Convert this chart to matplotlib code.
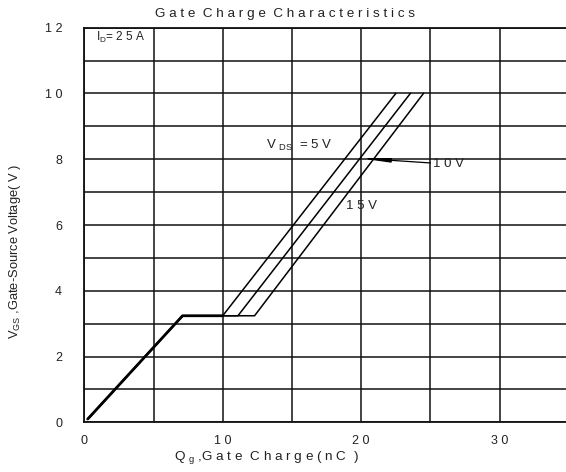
import matplotlib
matplotlib.use("Agg")
import matplotlib.pyplot as plt

plt.rcParams['font.family'] = ['Liberation Sans', 'DejaVu Sans']
plt.rcParams['mathtext.default'] = 'regular'

# gate charge curves (Qg in nC, Vgs in V) for Id = 25 A
qg_5v = [0.25, 7.1, 10.0, 22.5]
vgs_5v = [0.1, 3.24, 3.24, 10.0]
qg_10v = [0.25, 7.1, 11.1, 23.55]
vgs_10v = [0.1, 3.24, 3.24, 10.0]
qg_15v = [0.25, 7.1, 12.3, 24.5]
vgs_15v = [0.1, 3.24, 3.24, 10.0]

x_ticks = [0, 5, 10, 15, 20, 25, 30, 35]
x_labels = ['0', '', '1 0', '', '2 0', '', '3 0', '']
y_ticks = list(range(0, 13))
y_labels = ['0', '', '2', '', '4', '', '6', '', '8', '', '1 0', '', '1 2']

fig = plt.figure(figsize=(5.66, 4.72), dpi=100)
ax = fig.add_axes([84.3 / 566, 49.7 / 472, 484.5 / 566, 394.6 / 472])

ax.set_xlim(0, 35)
ax.set_ylim(0, 12)
ax.set_xticks(x_ticks)
ax.set_xticklabels(x_labels)
ax.set_yticks(y_ticks)
ax.set_yticklabels(y_labels)
ax.tick_params(length=0, labelsize=9, colors='#222222')
ax.tick_params(axis='x', pad=9)
ax.tick_params(axis='y', pad=16)
ax.grid(True, color='#111111', linewidth=1.1)
for s in ax.spines.values():
    s.set_color('#111111')
    s.set_linewidth(1.3)

# the three curves (thin), then the shared part drawn thick
ax.plot(qg_5v, vgs_5v, color='black', linewidth=1.1, zorder=3)
ax.plot(qg_10v, vgs_10v, color='black', linewidth=1.1, zorder=3)
ax.plot(qg_15v, vgs_15v, color='black', linewidth=1.1, zorder=3)
ax.plot(qg_5v[:3], vgs_5v[:3], color='black', linewidth=2.0, zorder=4,
        solid_capstyle='round')

txt = dict(fontsize=9.5, color='#222222')
ax.text(0.85, 11.7, 'I$_D$= 2 5 A', va='center', ha='left', fontsize=8.5,
        color='#222222')
ax.text(13.1, 8.43, 'V $_{DS}$  = 5 V', va='center', ha='left', **txt)
ax.text(18.9, 6.57, '1 5 V', va='center', ha='left', **txt)
ax.annotate('1 0 V', xy=(19.9, 8.03), xytext=(25.2, 7.85), va='center',
            ha='left', fontsize=9.5, color='#222222',
            arrowprops=dict(arrowstyle='-|>,head_length=1.75,head_width=0.13',
                            color='black', linewidth=0.9, shrinkA=0, shrinkB=0))

fig.text(285 / 566, 1 - 14.5 / 472,
         'G a t e  C h a r g e  C h a r a c t e r i s t i c s',
         ha='center', va='center', fontsize=9.7, color='#222222')
fig.text(266 / 566, 1 - 457 / 472,
         'Q $_g$ ,G a t e  C h a r g e ( n C  )',
         ha='center', va='center', fontsize=9.7, color='#222222')
fig.text(15 / 566, 1 - 251 / 472, 'V$_{GS}$ ,Gate-Source Voltage( V )',
         ha='center', va='center', rotation=90, fontsize=9.3, color='#222222')

fig.savefig('out.png', dpi=100)
